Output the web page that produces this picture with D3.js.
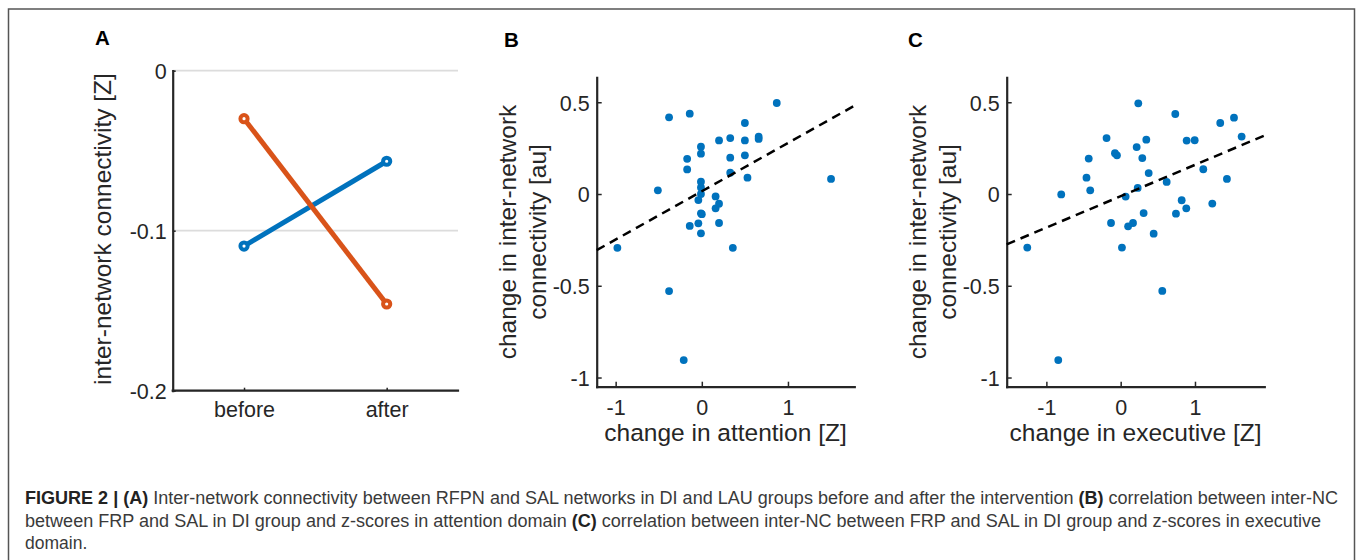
<!DOCTYPE html>
<html><head><meta charset="utf-8">
<script src="https://cdn.jsdelivr.net/npm/d3@7"></script>
<style>body{margin:0;background:#fff} svg{display:block}</style>
</head><body><svg id="fig" width="1358" height="560"></svg>
<script>
// ---------------- DATA ----------------
const categoriesA = ["before", "after"];
const groupBlueA = [-0.1096, -0.0566];
const groupOrangeA = [-0.0300, -0.1458];
const yTicksA = [0, -0.1, -0.2];

const attentionX = [-0.98,-0.51,-0.38,-0.38,-0.14,-0.17,-0.17,-0.14,-0.21,-0.01,-0.01,-0.01,-0.01,-0.01,-0.04,-0.01,-0.04,-0.01,0.16,0.20,0.16,0.20,0.20,0.33,0.33,0.33,0.36,0.50,0.50,0.50,0.53,0.66,0.66,0.87,1.50,0.00];
const connectivityB = [-0.293,0.020,0.418,-0.529,0.438,0.192,0.134,-0.174,-0.905,0.258,0.220,0.067,0.036,0.000,-0.033,-0.105,-0.160,-0.214,-0.013,-0.053,-0.078,-0.158,0.292,0.305,0.198,0.116,-0.293,0.387,0.292,0.211,0.089,0.312,0.300,0.496,0.082,-0.110];
const fitB = {slope: 0.263, intercept: 0.015};

const executiveX = [-1.257,-0.84,-0.80,-0.46,-0.43,-0.41,-0.19,-0.13,-0.077,-0.05,0.017,0.067,0.10,0.166,0.215,0.229,0.237,0.291,0.345,0.377,0.309,0.444,0.56,0.619,0.735,0.744,0.821,0.883,0.888,0.996,1.112,1.233,1.34,1.43,1.525,1.628];
const connectivityC = [-0.292,-0.905,-0.002,0.089,0.193,0.020,0.305,-0.158,0.222,0.211,-0.292,-0.014,-0.176,-0.158,0.256,0.033,0.494,0.196,0.296,0.114,-0.104,-0.216,-0.528,0.066,0.436,-0.107,-0.034,-0.078,0.291,0.293,0.135,-0.052,0.387,0.082,0.416,0.313];
const fitC = {slope: 0.171, intercept: -0.012};

const xTicksBC = [-1, 0, 1];
const yTicksBC = [0.5, 0, -0.5, -1];

const captionLines = [
  [["FIGURE 2 | (A)", true], [" Inter-network connectivity between RFPN and SAL networks in DI and LAU groups before and after the intervention ", false], ["(B)", true], [" correlation between inter-NC", false]],
  [["between FRP and SAL in DI group and z-scores in attention domain ", false], ["(C)", true], [" correlation between inter-NC between FRP and SAL in DI group and z-scores in executive", false]],
  [["domain.", false]]
];

// ---------------- STYLE ----------------
const FONT = "'Liberation Sans', Arial, Helvetica, sans-serif";
const AX = "#262626";
const BLUE = "#0072BD", ORANGE = "#D95319";
const svg = d3.select("#fig");

// frame
svg.append("rect").attr("x", 8.5).attr("y", 9).attr("width", 1346).attr("height", 600)
  .attr("fill", "none").attr("stroke", "#555").attr("stroke-width", 1.5);

function styleAxis(g, labelOffset, isX) {
  g.attr("font-family", FONT).attr("font-size", 21.5);
  g.select(".domain").attr("stroke", AX).attr("stroke-width", 2.2).attr("stroke-linecap", "square");
  g.selectAll(".tick line").attr("stroke", AX).attr("stroke-width", 1.5);
  const t = g.selectAll(".tick text").attr("fill", AX);
  if (isX) t.attr("y", labelOffset).attr("dy", 0);
  else t.attr("x", -labelOffset).attr("dy", "0.36em");
}

function panelLetter(txt, x, y) {
  svg.append("text").attr("x", x).attr("y", y).text(txt)
    .attr("font-family", FONT).attr("font-weight", "bold").attr("font-size", 20.5).attr("fill", "#000");
}

// ---------------- PANEL A ----------------
{
  const x0 = 172.7, x1 = 458, y0 = 70.7, y1 = 390.7;
  const x = d3.scalePoint().domain(categoriesA).range([x0, x1]).padding(0.5);
  const y = d3.scaleLinear().domain([-0.2, 0]).range([y1, y0]);
  const g = svg.append("g");
  // gridlines
  g.selectAll("line.grid").data(yTicksA).join("line")
    .attr("x1", x0).attr("x2", x1).attr("y1", d => y(d)).attr("y2", d => y(d))
    .attr("stroke", "#dcdcdc").attr("stroke-width", 1.8);
  const gy = g.append("g").attr("transform", `translate(${x0},0)`)
    .call(d3.axisLeft(y).tickValues(yTicksA).tickFormat(d => d === 0 ? "0" : d3.format(".1f")(d).replace("−", "-")).tickSize(-3).tickSizeOuter(0));
  styleAxis(gy, 6, false);
  const gx = g.append("g").attr("transform", `translate(0,${y1})`)
    .call(d3.axisBottom(x).tickSize(-3).tickSizeOuter(0));
  styleAxis(gx, 26.3, true);
  gx.select(".domain").attr("d", `M${x0},0H${x1}`);

  const series = [[groupBlueA, BLUE], [groupOrangeA, ORANGE]];
  const line = d3.line().x((d, i) => x(categoriesA[i])).y(d => y(d));
  series.forEach(([vals, col]) => {
    g.append("path").attr("d", line(vals)).attr("fill", "none").attr("stroke", col).attr("stroke-width", 5);
    g.selectAll(null).data(vals).join("circle")
      .attr("cx", (d, i) => x(categoriesA[i])).attr("cy", d => y(d)).attr("r", 3.6)
      .attr("fill", "#fff").attr("stroke", col).attr("stroke-width", 4);
  });
  svg.append("text").attr("transform", `translate(111,229) rotate(-90)`).attr("text-anchor", "middle")
    .attr("font-family", FONT).attr("font-size", 24.5).attr("fill", AX).text("inter-network connectivity [Z]");
  panelLetter("A", 95, 45);
}

// ---------------- PANELS B & C ----------------
function scatterPanel(opt) {
  const {x0, x1, y0, y1, xdom, ydom, xs, ys, fit, xlabel, letter, letterX, labelX1, labelX2} = opt;
  const x = d3.scaleLinear().domain(xdom).range([x0, x1]);
  const y = d3.scaleLinear().domain(ydom).range([y1, y0]);
  const g = svg.append("g");
  const fmt = d => (d === 0 ? "0" : String(d)).replace("−", "-");
  const gy = g.append("g").attr("transform", `translate(${x0},0)`)
    .call(d3.axisLeft(y).tickValues(yTicksBC).tickFormat(fmt).tickSize(-5).tickSizeOuter(0));
  styleAxis(gy, 7, false);
  const gx = g.append("g").attr("transform", `translate(0,${y1})`)
    .call(d3.axisBottom(x).tickValues(xTicksBC).tickFormat(fmt).tickSize(-5).tickSizeOuter(0));
  styleAxis(gx, 28, true);

  g.selectAll(null).data(xs).join("circle")
    .attr("cx", d => x(d)).attr("cy", (d, i) => y(ys[i])).attr("r", 3.9).attr("fill", BLUE);

  const fx = xdom;
  g.append("line")
    .attr("x1", x(fx[0])).attr("y1", y(fit.intercept + fit.slope * fx[0]))
    .attr("x2", x(fx[1])).attr("y2", y(fit.intercept + fit.slope * fx[1]))
    .attr("stroke", "#000").attr("stroke-width", 2.5).attr("stroke-dasharray", "9,6");

  svg.append("text").attr("x", (x0 + x1) / 2).attr("y", 441).attr("text-anchor", "middle")
    .attr("font-family", FONT).attr("font-size", 24.5).attr("fill", AX).text(xlabel);
  const cy = (y0 + y1) / 2;
  svg.append("text").attr("transform", `translate(${labelX1},${cy}) rotate(-90)`).attr("text-anchor", "middle")
    .attr("font-family", FONT).attr("font-size", 24.5).attr("fill", AX).text("change in inter-network");
  svg.append("text").attr("transform", `translate(${labelX2},${cy}) rotate(-90)`).attr("text-anchor", "middle")
    .attr("font-family", FONT).attr("font-size", 24.5).attr("fill", AX).text("connectivity [au]");
  panelLetter(letter, letterX, 46.5);
}

scatterPanel({x0: 596.7, x1: 854.3, y0: 77.3, y1: 386.7, xdom: [-1.22, 1.77], ydom: [-1.05, 0.636],
  xs: attentionX, ys: connectivityB, fit: fitB, xlabel: "change in attention [Z]",
  letter: "B", letterX: 504, labelX1: 515.5, labelX2: 546});
scatterPanel({x0: 1006.7, x1: 1264.3, y0: 77.3, y1: 386.7, xdom: [-1.534, 1.933], ydom: [-1.05, 0.636],
  xs: executiveX, ys: connectivityC, fit: fitC, xlabel: "change in executive [Z]",
  letter: "C", letterX: 908, labelX1: 925.5, labelX2: 956});

// ---------------- CAPTION ----------------
const capBase = [504, 526.5, 549];
const capWidths = [1313, 1296, null];
captionLines.forEach((segs, li) => {
  const t = svg.append("text").attr("x", 25).attr("y", capBase[li])
    .attr("font-family", FONT).attr("font-size", 17.5).attr("fill", "#3a3a3a");
  segs.forEach(([s, b]) => t.append("tspan").text(s).attr("font-weight", b ? "bold" : "normal").attr("fill", b ? "#222" : "#3a3a3a"));
  if (capWidths[li]) t.attr("textLength", capWidths[li]).attr("lengthAdjust", "spacingAndGlyphs");
});
</script></body></html>
